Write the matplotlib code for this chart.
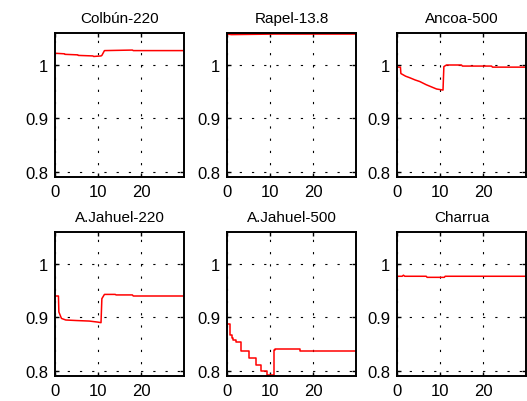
import matplotlib.pyplot as plt

plt.rcParams['font.family'] = ['Liberation Sans', 'DejaVu Sans']

# bus names (subplot titles)
titles = ['Colbún-220', 'Rapel-13.8', 'Ancoa-500',
          'A.Jahuel-220', 'A.Jahuel-500', 'Charrua']

# voltage (pu) vs time
t_colbun = [0, 2.2, 2.3, 5.3, 5.4, 8.8, 9.0, 10.7, 10.9, 11.5, 18, 18.2, 30]
v_colbun = [1.022, 1.021, 1.020, 1.019, 1.018, 1.017, 1.016, 1.017, 1.018, 1.027, 1.028, 1.027, 1.027]

t_rapel = [0, 1, 11, 12, 30]
v_rapel = [1.058, 1.057, 1.058, 1.058, 1.058]

t_ancoa = [0, 0.8, 0.9, 2.0, 3.0, 4.2, 5.3, 6.8, 8.0, 9.2, 10.7, 10.9, 11.5, 15, 15.2, 22, 22.2, 30]
v_ancoa = [0.996, 0.996, 0.984, 0.979, 0.976, 0.972, 0.969, 0.963, 0.959, 0.955, 0.953, 0.997, 1.0, 1.0, 0.998, 0.998, 0.996, 0.996]

t_jah220 = [0, 0.8, 0.9, 1.5, 2.5, 5, 8, 10, 10.7, 10.9, 11.5, 14, 14.2, 18, 18.2, 30]
v_jah220 = [0.940, 0.940, 0.910, 0.898, 0.895, 0.894, 0.893, 0.891, 0.890, 0.935, 0.943, 0.943, 0.942, 0.942, 0.940, 0.940]

t_jah500 = [0, 0.8, 1.1, 1.5, 2.2, 3.2, 5.1, 6.8, 8.0, 9.2, 10.9, 11.2, 17, 30]
v_jah500 = [0.888, 0.866, 0.862, 0.857, 0.853, 0.836, 0.823, 0.811, 0.800, 0.791, 0.838, 0.841, 0.837, 0.837]

t_charrua = [0, 1.2, 1.5, 1.8, 6.8, 7.0, 11.0, 11.2, 30]
v_charrua = [0.977, 0.977, 0.979, 0.977, 0.977, 0.975, 0.975, 0.977, 0.977]

series = [(t_colbun, v_colbun, 'default'),
          (t_rapel, v_rapel, 'default'),
          (t_ancoa, v_ancoa, 'default'),
          (t_jah220, v_jah220, 'default'),
          (t_jah500, v_jah500, 'steps-post'),
          (t_charrua, v_charrua, 'default')]

x_ticks = [0, 10, 20]
y_ticks = [0.8, 0.9, 1.0]
y_labels = ['0.8', '0.9', '1']

fig = plt.figure(figsize=(5.27, 4.02), dpi=100)

lefts = [55, 227, 397]
tops = [34, 233]
w, h = 129, 144

for i, (t, v, ds) in enumerate(series):
    row, col = divmod(i, 3)
    ax = fig.add_axes([lefts[col] / 527, 1 - (tops[row] + h) / 402, w / 527, h / 402])
    ax.plot(t, v, color='red', lw=1.1, drawstyle=ds)
    ax.set_xlim(0, 30)
    ax.set_ylim(0.79, 1.06)
    ax.set_xticks(x_ticks)
    ax.set_yticks(y_ticks)
    ax.set_yticklabels(y_labels)
    ax.grid(True, color='black', linestyle=(0, (2, 9)), lw=0.8)
    ax.tick_params(direction='in', length=3, width=1, top=True, right=True,
                   labelsize=12, pad=5)
    for s in ax.spines.values():
        s.set_linewidth(1.4)
    ax.set_title(titles[i], fontsize=11, pad=8)

fig.savefig('out.png', dpi=100)
